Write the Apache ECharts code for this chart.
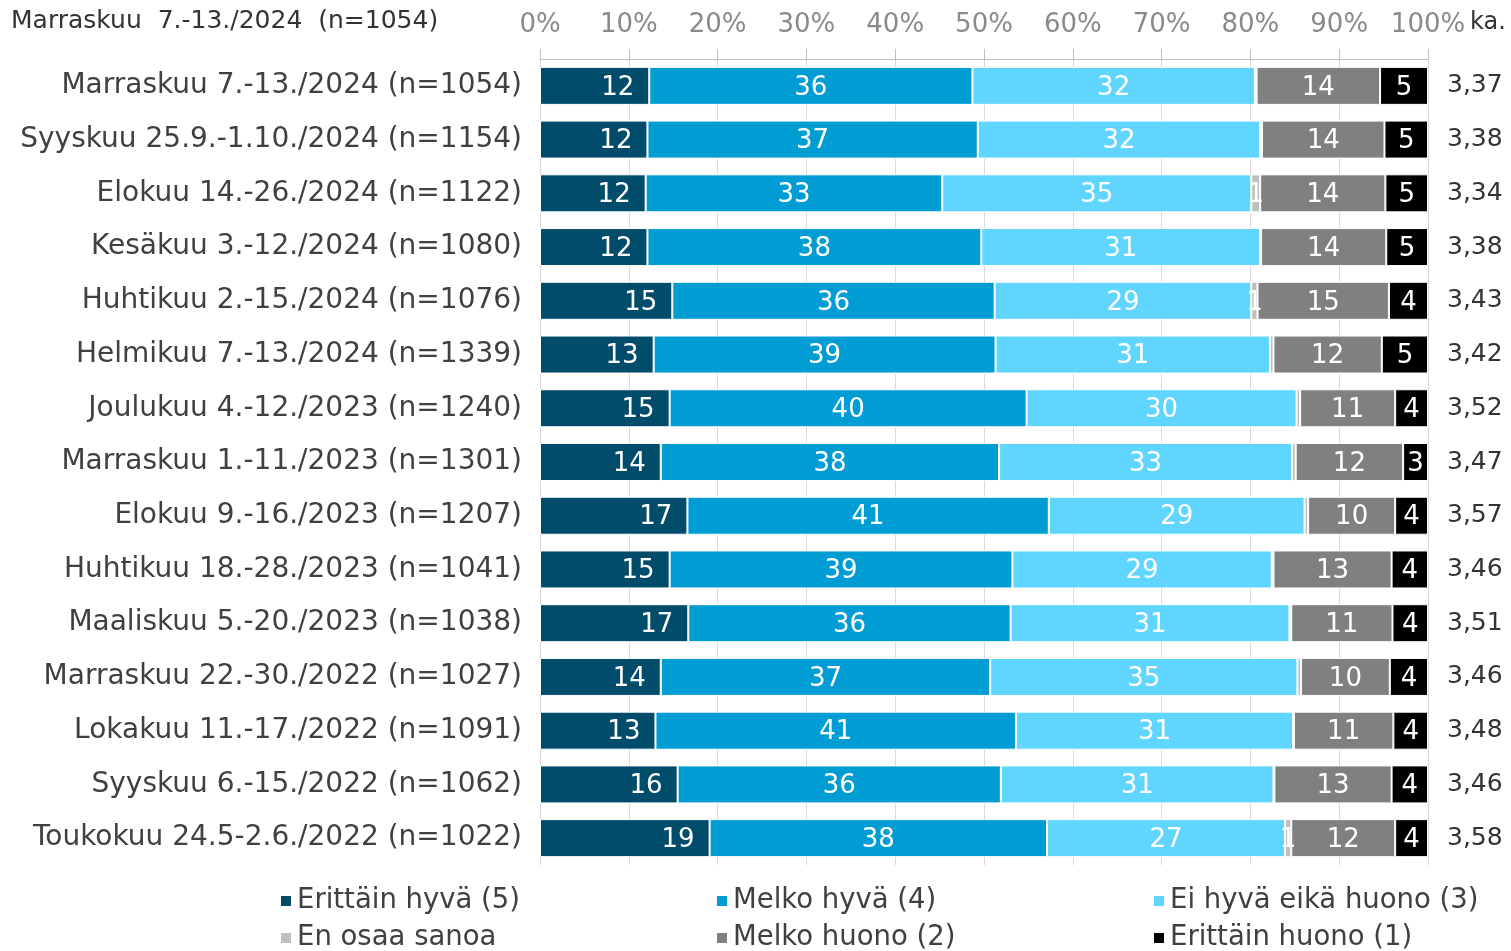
<!DOCTYPE html>
<html>
<head>
<meta charset="utf-8">
<script src="https://cdn.jsdelivr.net/npm/echarts@6/dist/echarts.min.js"></script>
<style>html,body{margin:0;padding:0;background:#fff;}#c{width:1511px;height:951px;}</style>
</head>
<body>
<div id="c"></div>
<script>
const categories = [
  'Marraskuu 7.-13./2024 (n=1054)',
  'Syyskuu 25.9.-1.10./2024 (n=1154)',
  'Elokuu 14.-26./2024 (n=1122)',
  'Kesäkuu 3.-12./2024 (n=1080)',
  'Huhtikuu 2.-15./2024 (n=1076)',
  'Helmikuu 7.-13./2024 (n=1339)',
  'Joulukuu 4.-12./2023 (n=1240)',
  'Marraskuu 1.-11./2023 (n=1301)',
  'Elokuu 9.-16./2023 (n=1207)',
  'Huhtikuu 18.-28./2023 (n=1041)',
  'Maaliskuu 5.-20./2023 (n=1038)',
  'Marraskuu 22.-30./2022 (n=1027)',
  'Lokakuu 11.-17./2022 (n=1091)',
  'Syyskuu 6.-15./2022 (n=1062)',
  'Toukokuu 24.5-2.6./2022 (n=1022)'
];
const erittainHyva = [12.3, 12.1, 11.9, 12.1, 14.9, 12.8, 14.6, 13.6, 16.6, 14.6, 16.7, 13.6, 13.0, 15.5, 19.1];
const melkoHyva    = [36.4, 37.2, 33.4, 37.6, 36.3, 38.5, 40.2, 38.1, 40.7, 38.6, 36.3, 37.1, 40.6, 36.4, 38.0];
const eiHyvaEika   = [31.8, 31.8, 34.8, 31.4, 28.9, 30.9, 30.4, 33.0, 28.8, 29.2, 31.4, 34.6, 31.2, 30.7, 26.8];
const enOsaa       = [0.2, 0.2, 1.0, 0.1, 0.7, 0.4, 0.4, 0.4, 0.4, 0.2, 0.2, 0.4, 0.1, 0.1, 0.7];
const melkoHuono   = [13.9, 13.8, 14.1, 14.1, 14.8, 12.2, 10.7, 12.1, 9.8, 13.3, 11.4, 10.0, 11.2, 13.2, 11.7];
const erittainHuono= [5.4, 4.9, 4.8, 4.7, 4.4, 5.2, 3.7, 2.8, 3.7, 4.1, 4.0, 4.3, 3.9, 4.1, 3.7];
const averages = ['3,37','3,38','3,34','3,38','3,43','3,42','3,52','3,47','3,57','3,46','3,51','3,46','3,48','3,46','3,58'];
const seriesNames = ['Erittäin hyvä (5)','Melko hyvä (4)','Ei hyvä eikä huono (3)','En osaa sanoa','Melko huono (2)','Erittäin huono (1)'];
const colors = ['#004C6A','#009DD5','#5FD5FF','#BFBFBF','#808080','#000000'];
const xTicks = [0,10,20,30,40,50,60,70,80,90,100];
const titleText = 'Marraskuu  7.-13./2024  (n=1054)';

const FONT = 'DejaVu Sans';
const dataSets = [erittainHyva, melkoHyva, eiHyvaEika, enOsaa, melkoHuono, erittainHuono];

const series = dataSets.map((d, i) => ({
  name: seriesNames[i],
  type: 'bar',
  stack: 'total',
  barWidth: 38,
  data: d,
  itemStyle: { color: colors[i], borderColor: '#ffffff', borderWidth: 1 },
  label: {
    show: true,
    position: i === 0 ? 'insideRight' : 'inside',
    distance: 15,
    offset: [0, 2],
    color: '#ffffff',
    fontFamily: FONT,
    fontSize: 26,
    formatter: p => (p.value >= 0.5 ? String(Math.round(p.value)) : '')
  },
  emphasis: { disabled: true },
  animation: false
}));

const legendPos = [
  {left: 279, top: 887}, {left: 715, top: 887}, {left: 1152, top: 887},
  {left: 279, top: 924}, {left: 715, top: 924}, {left: 1152, top: 924}
];
const legends = seriesNames.map((n, i) => ({
  data: [n],
  left: legendPos[i].left,
  top: legendPos[i].top,
  padding: 0,
  itemWidth: 12,
  itemHeight: 12,
  icon: 'rect',
  selectedMode: false,
  textStyle: { fontFamily: FONT, fontSize: 27.5, color: '#404040' }
}));

const option = {
  animation: false,
  backgroundColor: '#ffffff',
  title: [
    { text: titleText, left: 11, top: 9, padding: 0,
      textStyle: { fontFamily: FONT, fontSize: 25, fontWeight: 'normal', color: '#333333' } },
    { text: 'ka.', left: 1470, top: 11, padding: 0,
      textStyle: { fontFamily: FONT, fontSize: 24, fontWeight: 'normal', color: '#333333' } }
  ],
  legend: legends,
  grid: { left: 540, right: 83, top: 59, bottom: 86 },
  xAxis: {
    type: 'value',
    position: 'top',
    min: xTicks[0],
    max: xTicks[xTicks.length - 1],
    interval: 10,
    axisLine: { show: true, lineStyle: { color: '#BFBFBF', width: 1 } },
    axisTick: { show: true, length: 10, lineStyle: { color: '#BFBFBF' } },
    splitLine: { show: true, lineStyle: { color: '#D9D9D9', width: 1 } },
    axisLabel: { formatter: '{value}%', fontFamily: FONT, fontSize: 26, color: '#8A8A8A', margin: 21 }
  },
  yAxis: [
    {
      type: 'category',
      inverse: true,
      data: categories,
      axisLine: { show: false },
      axisTick: { show: false },
      axisLabel: { fontFamily: FONT, fontSize: 28, color: '#404040', margin: 18, padding: [6, 0, 0, 0] }
    },
    {
      type: 'category',
      inverse: true,
      position: 'right',
      data: averages,
      axisLine: { show: false },
      axisTick: { show: false },
      axisLabel: { fontFamily: FONT, fontSize: 25, color: '#333333', margin: 19, padding: [6, 0, 0, 0] }
    }
  ],
  series: series
};

const chart = echarts.init(document.getElementById('c'), null, { renderer: 'canvas' });
chart.setOption(option);
</script>
</body>
</html>
